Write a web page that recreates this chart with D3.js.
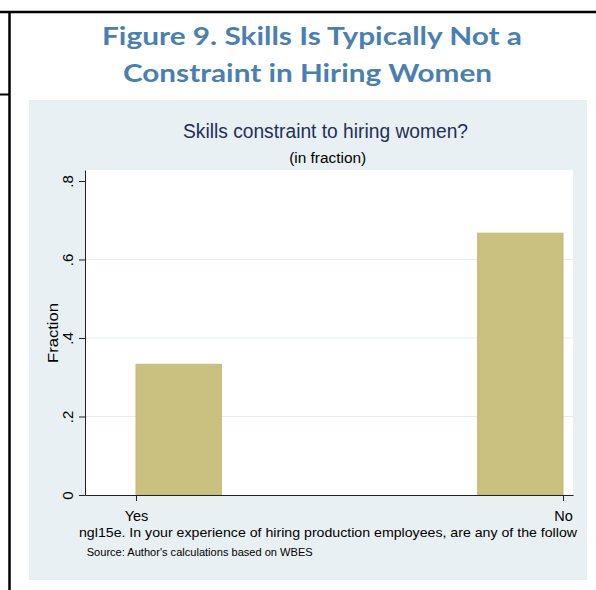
<!DOCTYPE html>
<html><head><meta charset="utf-8">
<script src="https://cdn.jsdelivr.net/npm/d3@7"></script>
<style>body{margin:0;background:#fff}svg{display:block}</style>
</head><body><svg id="c" width="596" height="590"></svg>
<script>
// ---- data ----
const binStarts = [0, 0.2, 0.4, 0.6, 0.8];
const binWidth = 0.2;
const fractions = [0.333, 0, 0, 0, 0.667];
const xTickValues = [0, 1];
const xTickLabels = ["Yes", "No"];
const yTickValues = [0, 0.2, 0.4, 0.6, 0.8];
const yTickLabels = ["0", ".2", ".4", ".6", ".8"];
const gridValues = [0.2, 0.4, 0.6];
const figTitle = ["Figure 9. Skills Is Typically Not a", "Constraint in Hiring Women"];
const chartTitle = "Skills constraint to hiring women?";
const chartSubtitle = "(in fraction)";
const yTitle = "Fraction";
const xTitle = "ngl15e. In your experience of hiring production employees, are any of the follow";
const note = "Source: Author's calculations based on WBES";

// ---- layout ----
const svg = d3.select("#c");
const FONT = "'Liberation Sans', Arial, Helvetica, sans-serif";
const plot = {x0: 85, x1: 573, y0: 170, y1: 495};

// document frame lines
svg.append("line").attr("x1", 0).attr("x2", 596).attr("y1", 12).attr("y2", 12).attr("stroke", "#000").attr("stroke-width", 2.5);
svg.append("line").attr("x1", 9.5).attr("x2", 9.5).attr("y1", 11).attr("y2", 590).attr("stroke", "#000").attr("stroke-width", 2.5);
svg.append("line").attr("x1", 0).attr("x2", 9.5).attr("y1", 94.5).attr("y2", 94.5).attr("stroke", "#000").attr("stroke-width", 2);

// figure title
const ft = svg.append("g").attr("font-family", "Lato, 'Open Sans', sans-serif").attr("font-weight", 700)
  .attr("font-size", 25).attr("fill", "#4a80b0");
ft.append("text").attr("x", 102).attr("y", 44.5).attr("textLength", 420).attr("lengthAdjust", "spacingAndGlyphs").text(figTitle[0]);
ft.append("text").attr("x", 123).attr("y", 81.8).attr("textLength", 369).attr("lengthAdjust", "spacingAndGlyphs").text(figTitle[1]);

// graph region
svg.append("rect").attr("x", 29).attr("y", 100).attr("width", 558).attr("height", 480).attr("fill", "#e9f0f3");
svg.append("rect").attr("x", plot.x0).attr("y", plot.y0).attr("width", plot.x1 - plot.x0).attr("height", plot.y1 - plot.y0).attr("fill", "#fff");

// scales
const x = d3.scaleLinear().domain([-0.1194, 1.0234]).range([plot.x0, plot.x1]);
const y = d3.scaleLinear().domain([0, 0.828]).range([plot.y1, plot.y0]);

// gridlines
svg.append("g").selectAll("line").data(gridValues).join("line")
  .attr("x1", plot.x0).attr("x2", plot.x1)
  .attr("y1", d => y(d)).attr("y2", d => y(d))
  .attr("stroke", "#e3edf0").attr("stroke-width", 1);

// bars
const bins = binStarts.map((s, i) => ({s, f: fractions[i]})).filter(d => d.f > 0);
svg.append("g").selectAll("rect").data(bins).join("rect")
  .attr("x", d => x(d.s)).attr("width", d => x(d.s + binWidth) - x(d.s))
  .attr("y", d => y(d.f)).attr("height", d => y(0) - y(d.f))
  .attr("fill", "#cac180").attr("stroke", "#c3b978").attr("stroke-width", 1);

// y axis
const ya = svg.append("g").attr("transform", `translate(${plot.x0},0)`)
  .call(d3.axisLeft(y).tickValues(yTickValues).tickFormat((d, i) => yTickLabels[i]).tickSize(6).tickSizeOuter(0));
ya.select(".domain").attr("stroke", "#222");
ya.selectAll(".tick line").attr("stroke", "#222");
ya.selectAll(".tick text").attr("x", null).attr("dy", null)
  .attr("transform", "translate(-12,0) rotate(-90)").attr("text-anchor", "middle")
  .attr("font-family", FONT).attr("font-size", 15).attr("fill", "#000");

// x axis
const xa = svg.append("g").attr("transform", `translate(0,${plot.y1})`)
  .call(d3.axisBottom(x).tickValues(xTickValues).tickFormat((d, i) => xTickLabels[i]).tickSize(6).tickSizeOuter(0));
xa.select(".domain").attr("stroke", "#222");
xa.selectAll(".tick line").attr("stroke", "#222");
xa.selectAll(".tick text").attr("y", 25.5).attr("dy", null)
  .attr("font-family", FONT).attr("font-size", 14.5).attr("fill", "#000");

// titles
svg.append("text").attr("x", 325.5).attr("y", 138).attr("text-anchor", "middle")
  .attr("font-family", FONT).attr("font-size", 20).attr("fill", "#1e2f58")
  .attr("textLength", 285).attr("lengthAdjust", "spacingAndGlyphs").text(chartTitle);
svg.append("text").attr("x", 327.7).attr("y", 162.5).attr("text-anchor", "middle")
  .attr("font-family", FONT).attr("font-size", 15.5).attr("fill", "#000")
  .attr("textLength", 77).attr("lengthAdjust", "spacingAndGlyphs").text(chartSubtitle);

svg.append("text").attr("transform", "translate(58.3,333) rotate(-90)").attr("text-anchor", "middle")
  .attr("font-family", FONT).attr("font-size", 15).attr("fill", "#000")
  .attr("textLength", 60).attr("lengthAdjust", "spacingAndGlyphs").text(yTitle);

svg.append("text").attr("x", 79).attr("y", 536.5)
  .attr("font-family", FONT).attr("font-size", 13.2).attr("fill", "#000")
  .attr("textLength", 498).attr("lengthAdjust", "spacingAndGlyphs").text(xTitle);

svg.append("text").attr("x", 86.7).attr("y", 556)
  .attr("font-family", FONT).attr("font-size", 11).attr("fill", "#000")
  .attr("textLength", 226).attr("lengthAdjust", "spacingAndGlyphs").text(note);
</script></body></html>
